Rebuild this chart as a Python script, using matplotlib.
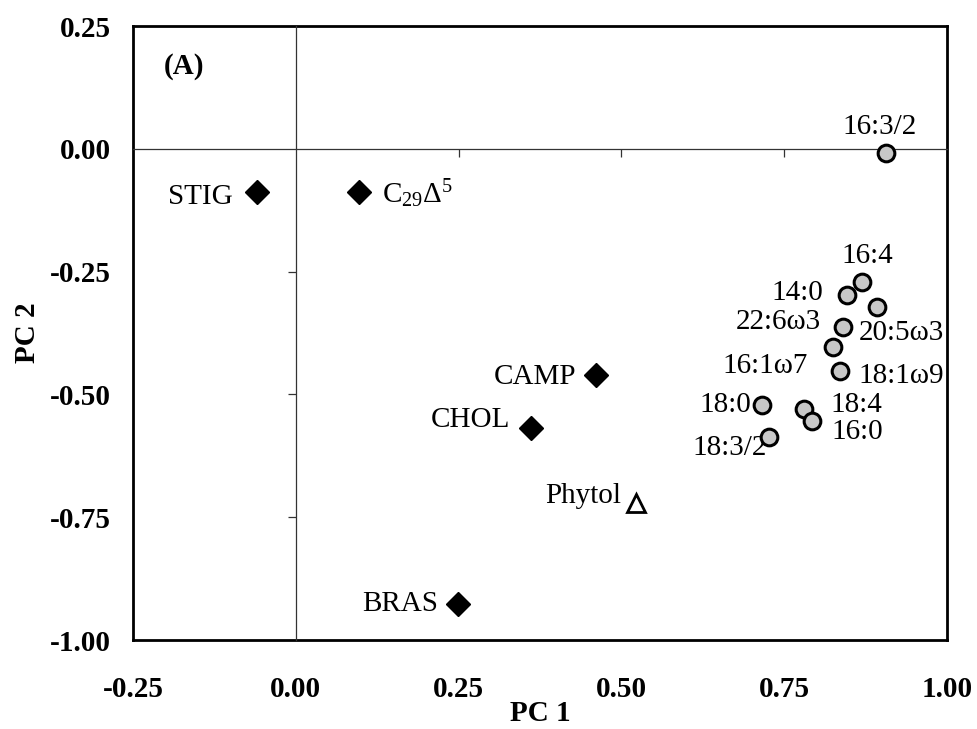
import matplotlib
matplotlib.use("Agg")
import matplotlib.pyplot as plt

plt.rcParams['font.family'] = ['Liberation Serif', 'DejaVu Serif']
plt.rcParams['mathtext.fontset'] = 'custom'
plt.rcParams['mathtext.rm'] = 'Liberation Serif'
plt.rcParams['mathtext.it'] = 'Liberation Serif'

# Sterols (black diamonds)
sterol_names = ["STIG", r"C$_{29}\Delta^5$", "CAMP", "CHOL", "BRAS"]
sterol_pc1 = [-0.060, 0.097, 0.461, 0.361, 0.249]
sterol_pc2 = [-0.088, -0.088, -0.460, -0.568, -0.927]
sterol_off = [(-24, -5, 'right'), (23, -2, 'left'), (-20, -2, 'right'),
              (-21, 8, 'right'), (-20, 0, 'right')]

# Phytol (open triangle)
phytol_pc1 = [0.522]
phytol_pc2 = [-0.721]

# Fatty acids (grey circles)
fa_names = ["16:3/2", "16:4", "14:0", "20:5ω3", "22:6ω3", "16:1ω7",
            "18:1ω9", "18:0", "18:4", "16:0", "18:3/2"]
fa_pc1 = [0.906, 0.869, 0.846, 0.893, 0.841, 0.825, 0.836, 0.716, 0.780, 0.793, 0.727]
fa_pc2 = [-0.008, -0.272, -0.297, -0.321, -0.362, -0.404, -0.453, -0.521, -0.530, -0.555, -0.587]
fa_off = [(-6, 26, 'center'), (6, 26, 'center'), (-24, 2, 'right'),
          (-19, -26, 'left'), (-23, 5, 'right'), (-25, -19, 'right'),
          (18, -5, 'left'), (-11, 0, 'right'), (27, 4, 'left'),
          (19, -11, 'left'), (-2, -11, 'right')]

xticks = [-0.25, 0.00, 0.25, 0.50, 0.75, 1.00]
yticks = [0.25, 0.00, -0.25, -0.50, -0.75, -1.00]

fig = plt.figure(figsize=(9.78, 7.29), dpi=100)
pos = [0.136, 0.122, 0.8323, 0.8422]
ax = fig.add_axes(pos)
ax.set_xlim(-0.25, 1.00)
ax.set_ylim(-1.00, 0.25)
for s in ax.spines.values():
    s.set_linewidth(2.0)
    s.set_color('black')
ax.set_xticks(xticks)
ax.set_yticks(yticks)
ax.set_xticklabels([f"{v:.2f}" for v in xticks], fontsize=21, fontweight='bold')
ax.set_yticklabels([f"{v:.2f}" for v in yticks], fontsize=21, fontweight='bold')
ax.tick_params(axis='x', length=0, pad=26)
ax.tick_params(axis='y', length=0, pad=16)
ax.set_xlabel("PC 1", fontsize=21, fontweight='bold', labelpad=-2)
ax.set_ylabel("PC 2", fontsize=21, fontweight='bold', labelpad=6)

# overlay axes for zero lines with ticks
ax2 = fig.add_axes(pos, facecolor='none')
ax2.set_xlim(-0.25, 1.00)
ax2.set_ylim(-1.00, 0.25)
ax2.spines['top'].set_visible(False)
ax2.spines['right'].set_visible(False)
ax2.spines['left'].set_position(('data', 0))
ax2.spines['bottom'].set_position(('data', 0))
ax2.spines['left'].set_linewidth(0.9)
ax2.spines['bottom'].set_linewidth(0.9)
ax2.spines['left'].set_color('#333333')
ax2.spines['bottom'].set_color('#333333')
ax2.set_xticks([t for t in xticks if -0.25 < t < 1.0 and t != 0])
ax2.set_yticks([t for t in yticks if -1.0 < t < 0.25 and t != 0])
ax2.tick_params(direction='out', length=6, width=0.9, color='#333333',
                labelbottom=False, labelleft=False)

ax3 = ax2
ax3.plot(sterol_pc1, sterol_pc2, linestyle='none', marker='D', markersize=12,
         color='black', zorder=5)
ax3.plot(phytol_pc1, phytol_pc2, linestyle='none', marker='^', markersize=13,
         markerfacecolor='white', markeredgecolor='black', markeredgewidth=2, zorder=5)
ax3.plot(fa_pc1, fa_pc2, linestyle='none', marker='o', markersize=12,
         markerfacecolor='#c8c8c8', markeredgecolor='black', markeredgewidth=2.2, zorder=5)

for n, x, y, (dx, dy, ha) in zip(sterol_names, sterol_pc1, sterol_pc2, sterol_off):
    ax3.annotate(n, (x, y), xytext=(dx, dy), textcoords='offset pixels',
                 ha=ha, va='center', fontsize=21)
ax3.annotate("Phytol", (phytol_pc1[0], phytol_pc2[0]), xytext=(-15, 7),
             textcoords='offset pixels', ha='right', va='center', fontsize=21)
for n, x, y, (dx, dy, ha) in zip(fa_names, fa_pc1, fa_pc2, fa_off):
    ax3.annotate(n, (x, y), xytext=(dx, dy), textcoords='offset pixels',
                 ha=ha, va='center', fontsize=21)

ax3.text(0.038, 0.935, "(A)", transform=ax3.transAxes, fontsize=21,
         fontweight='bold', ha='left', va='center')

fig.savefig("out.png", dpi=100)
